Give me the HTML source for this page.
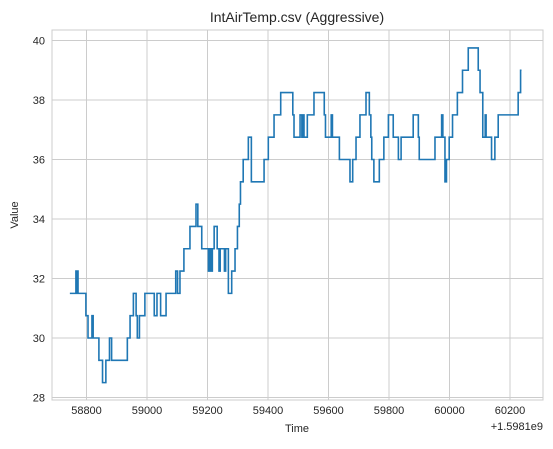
<!DOCTYPE html>
<html><head><meta charset="utf-8"><style>
body{margin:0;background:#fff;}
svg text{font-family:"Liberation Sans",Arial,sans-serif;fill:#262626;}
</style></head><body>
<svg id="chart" width="553" height="444">
<rect x="0" y="0" width="553" height="444" fill="#fff"/>
<g id="grid"></g>
<rect x="52" y="30" width="491" height="370" fill="none" stroke="#cccccc" stroke-width="1"/>
<path id="line" fill="none" stroke="#1f77b4" stroke-width="1.6"/>
<g id="ticks"></g>
<text x="297" y="22" font-size="14" text-anchor="middle">IntAirTemp.csv (Aggressive)</text>
<text x="297" y="432" font-size="11" text-anchor="middle">Time</text>
<text x="18" y="215" font-size="11" text-anchor="middle" transform="rotate(-90 18 215)">Value</text>
<text x="543" y="430" font-size="11" text-anchor="end">+1.5981e9</text>
</svg>
<script>
const times=[58745,58765,58767,58770,58772,58798,58805,58818,58822,58841,58853,58864,58876,58883,58935,58944,58955,58964,58968,58975,
58993,59024,59033,59045,59063,59095,59101,59109,59122,59142,59162,59168,59181,59203,59205,59207,59210,59212,59216,59222,
59232,59238,59242,59256,59260,59269,59280,59291,59299,59305,59309,59318,59335,59345,59387,59401,59420,59442,59482,59486,
59506,59512,59517,59519,59530,59552,59586,59590,59609,59613,59636,59671,59680,59691,59704,59724,59735,59740,59743,59750,
59768,59783,59798,59814,59831,59840,59880,59897,59900,59952,59974,59978,59985,59990,59999,60010,60026,60043,60062,60095,
60101,60110,60118,60121,60139,60150,60161,60227,60235,60238];
const values=[31.5,32.25,31.5,32.25,31.5,30.75,30,30.75,30,29.25,28.5,29.25,30,29.25,30,30.75,31.5,30.75,30,30.75,
31.5,30.75,31.5,30.75,31.5,32.25,31.5,32.25,33,33.75,34.5,33.75,33,32.25,33,32.25,33,32.25,33,33.75,
33,32.25,33,32.25,33,31.5,32.25,33,33.75,34.5,35.25,36,36.75,35.25,36,36.75,37.5,38.25,37.5,36.75,
37.5,36.75,37.5,36.75,37.5,38.25,37.5,36.75,37.5,36.75,36,35.25,36,36.75,37.5,38.25,37.5,36.75,36,35.25,
36,36.75,37.5,36.75,36,36.75,37.5,36.75,36,36.75,37.5,36.75,35.25,36,36.75,37.5,38.25,39,39.75,39,
38.25,36.75,37.5,36.75,36,36.75,37.5,38.25,39,39];
const xTicks=[58800,59000,59200,59400,59600,59800,60000,60200];
const yTicks=[28,30,32,34,36,38,40];
const X=t=>86.5+(t-58800)*0.3025;
const Y=v=>219-(v-34)*29.75;
const NS="http://www.w3.org/2000/svg";
const grid=document.getElementById('grid'),ticks=document.getElementById('ticks');
xTicks.forEach(t=>{
 const l=document.createElementNS(NS,'line');
 l.setAttribute('x1',X(t));l.setAttribute('x2',X(t));l.setAttribute('y1',30);l.setAttribute('y2',400);
 l.setAttribute('stroke','#cccccc');
 
 
 grid.appendChild(l);
 const tx=document.createElementNS(NS,'text');
 tx.setAttribute('x',X(t));tx.setAttribute('y',414);tx.setAttribute('font-size','11');tx.setAttribute('text-anchor','middle');
 tx.textContent=t;
 
 
 ticks.appendChild(tx);
});
yTicks.forEach(v=>{
 const l=document.createElementNS(NS,'line');
 l.setAttribute('x1',52);l.setAttribute('x2',543);l.setAttribute('y1',Y(v));l.setAttribute('y2',Y(v));
 l.setAttribute('stroke','#cccccc');
 
 
 grid.appendChild(l);
 const tx=document.createElementNS(NS,'text');
 tx.setAttribute('x',45);tx.setAttribute('y',Y(v)+4);tx.setAttribute('font-size','11');tx.setAttribute('text-anchor','end');
 tx.textContent=v;
 
 
 ticks.appendChild(tx);
});
const n=Math.min(times.length,values.length);
let d='M'+X(times[0])+','+Y(values[0]);
for(let i=1;i<n;i++){d+=' H'+X(times[i])+' V'+Y(values[i]);}
document.getElementById('line').setAttribute('d',d);
</script>
</body></html>
